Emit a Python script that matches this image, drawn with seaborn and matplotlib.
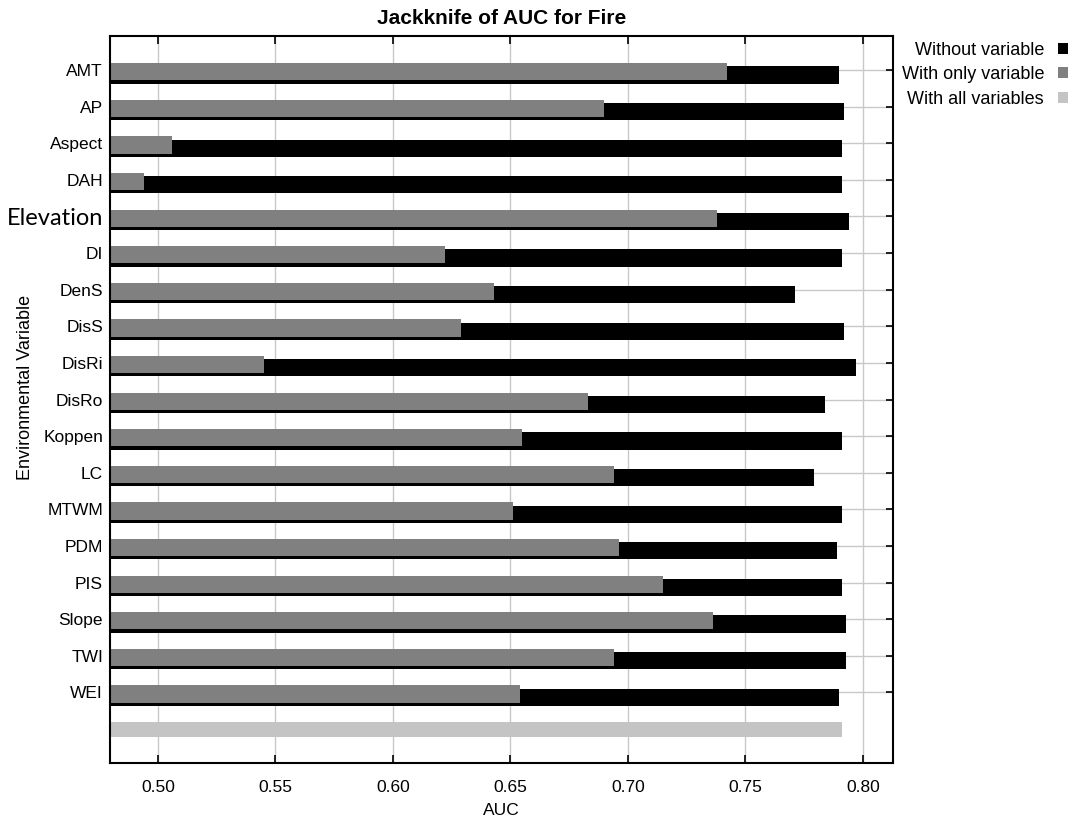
import matplotlib
matplotlib.use("Agg")
import matplotlib.pyplot as plt
import matplotlib.transforms as mtransforms
from matplotlib.patches import Patch
import numpy as np
import seaborn as sns

# Jackknife results (AUC) for each environmental variable
variables = ["AMT", "AP", "Aspect", "DAH", "Elevation", "DI", "DenS", "DisS",
             "DisRi", "DisRo", "Koppen", "LC", "MTWM", "PDM", "PIS", "Slope",
             "TWI", "WEI"]
without_variable = [0.790, 0.792, 0.791, 0.791, 0.794, 0.791, 0.771, 0.792,
                    0.797, 0.784, 0.791, 0.779, 0.791, 0.789, 0.791, 0.793,
                    0.793, 0.790]
with_only_variable = [0.742, 0.690, 0.506, 0.494, 0.738, 0.622, 0.643, 0.629,
                      0.545, 0.683, 0.655, 0.694, 0.651, 0.696, 0.715, 0.736,
                      0.694, 0.654]
with_all_variables = [0.791]
all_key = "All variables"
x_ticks = [0.50, 0.55, 0.60, 0.65, 0.70, 0.75, 0.80]

sns.set_style("white")
plt.rcParams["font.family"] = ["Liberation Sans", "DejaVu Sans"]
for key in ["text.color", "axes.labelcolor", "xtick.color", "ytick.color"]:
    plt.rcParams[key] = "black"

c_without = "#000000"
c_only = "#808080"
c_all = "#c4c4c4"
c_grid = "#c8c8c8"

fig = plt.figure(figsize=(10.76, 8.16), dpi=100)
ax = fig.add_axes([110 / 1076, 1 - 763 / 816, (893 - 110) / 1076, (763 - 36) / 816])

order = variables + [all_key]

# black "without variable" bars, sitting slightly lower in each row
n0 = len(ax.patches)
sns.barplot(x=without_variable, y=variables, order=order, orient="h",
            color=c_without, width=0.47, saturation=1, ax=ax)
for p in ax.patches[n0:]:
    p.set_y(p.get_y() + 0.135)
    p.set_linewidth(0)

# grey "with only variable" bars on top
n1 = len(ax.patches)
sns.barplot(x=with_only_variable, y=variables, order=order, orient="h",
            color=c_only, width=0.47, saturation=1, ax=ax)
for p in ax.patches[n1:]:
    p.set_y(p.get_y() + 0.045)
    p.set_linewidth(0)

# light "with all variables" bar at the bottom
n2 = len(ax.patches)
sns.barplot(x=with_all_variables, y=[all_key], order=order, orient="h",
            color=c_all, width=0.41, saturation=1, ax=ax)
for p in ax.patches[n2:]:
    p.set_y(p.get_y() + 0.015)
    p.set_linewidth(0)

ax.set_xlim(0.4796, 0.8128)
ax.set_ylim(len(variables) + 0.93, -0.93)

ax.set_xticks(x_ticks)
ax.set_xticklabels([f"{t:.2f}" for t in x_ticks], fontsize=12.5)
ax.set_yticks(np.arange(len(variables)))
ax.set_yticklabels(variables, fontsize=12.5)
for lbl in ax.get_yticklabels():
    if lbl.get_text() == "Elevation":
        lbl.set_fontfamily(["Lato", "DejaVu Sans"])
        lbl.set_fontsize(17)
    lbl.set_transform(lbl.get_transform() +
                      mtransforms.ScaledTranslation(0, -4 / 100, fig.dpi_scale_trans))

ax.tick_params(axis="x", bottom=True, top=True, direction="in", length=6,
               width=1.2, color="black", labelcolor="black", pad=12)
ax.tick_params(axis="y", left=False, right=True, direction="in", length=5,
               width=1.2, color="black", labelcolor="black",
               labelleft=True, labelright=False, pad=5)

ax.grid(True, axis="both", color=c_grid, linewidth=1.0)
ax.set_axisbelow(True)
for s in ax.spines.values():
    s.set_color("black")
    s.set_linewidth(1.5)
    s.set_visible(True)

ax.set_title("Jackknife of AUC for Fire", fontsize=15, fontweight="bold",
             pad=9, color="black")
ax.set_xlabel("AUC", fontsize=12.5, labelpad=6, color="black")
ax.set_ylabel("Environmental Variable", fontsize=13, color="black")
ax.yaxis.set_label_coords((34 - 110) / 783, (763 - 387) / 727)

handles = [Patch(facecolor=c_without, edgecolor="none"),
           Patch(facecolor=c_only, edgecolor="none"),
           Patch(facecolor=c_all, edgecolor="none")]
fig.legend(handles, ["Without variable", "With only variable", "With all variables"],
           loc="upper right", bbox_to_anchor=(1072 / 1076, 1 - 38 / 816),
           frameon=False, markerfirst=False, fontsize=13, labelcolor="black",
           handlelength=0.55, handleheight=0.55, handletextpad=0.8,
           labelspacing=0.42, borderpad=0.2, borderaxespad=0)

fig.savefig("out.png", dpi=100)
